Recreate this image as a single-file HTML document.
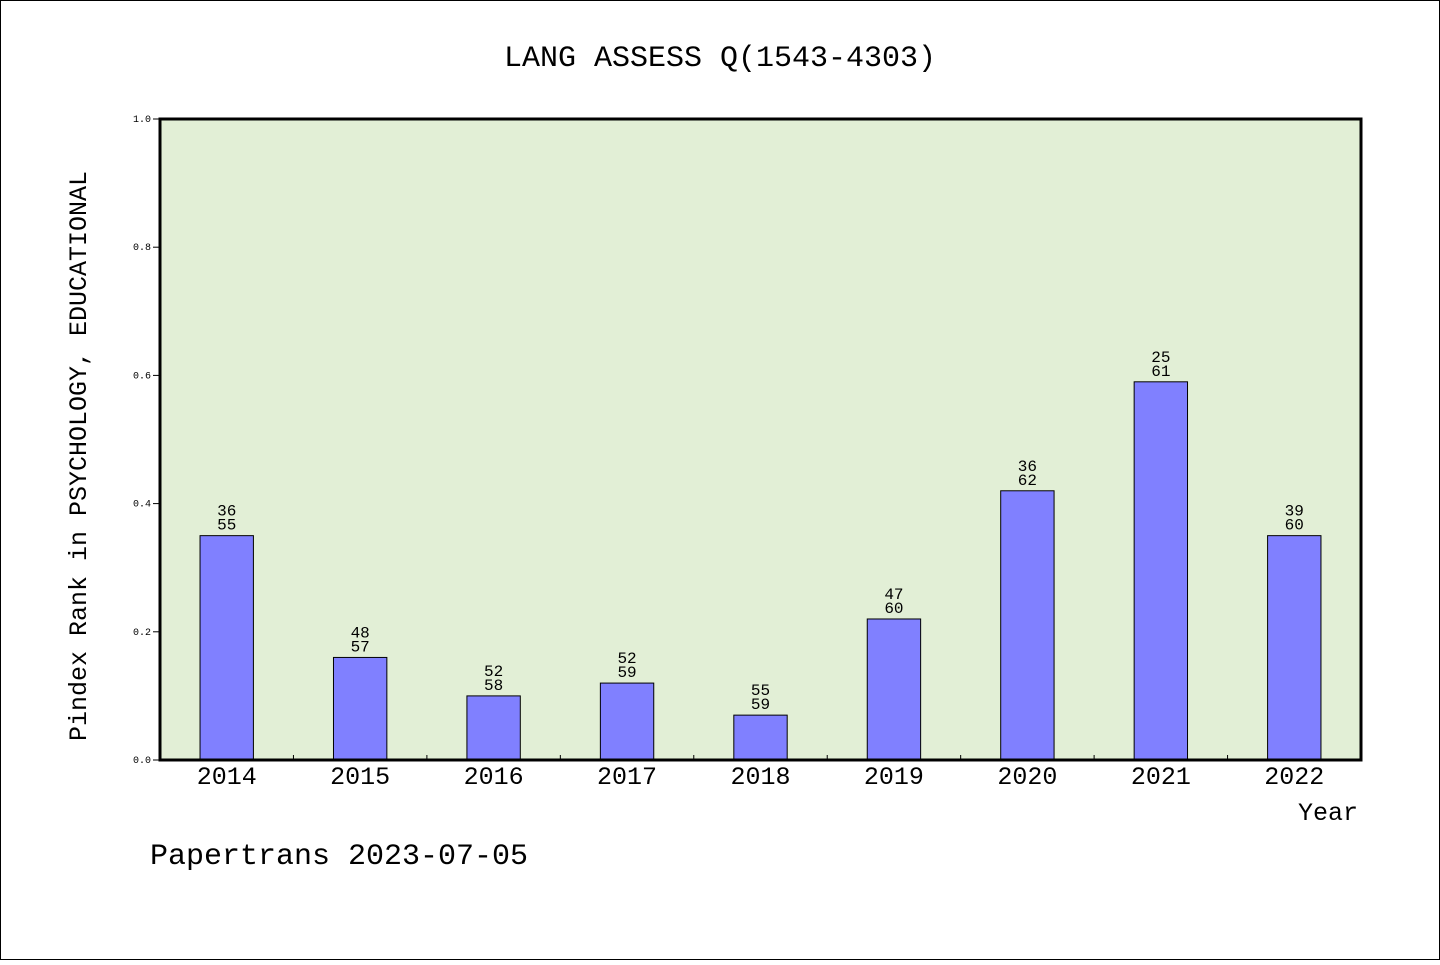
<!DOCTYPE html>
<html><head><meta charset="utf-8"><style>
body{margin:0;background:#fff}
svg text{font-family:"Liberation Mono","WenQuanYi Zen Hei",monospace}
</style></head><body>
<svg width="1440" height="960">
<rect x="0.5" y="0.5" width="1439" height="959" fill="#fff" stroke="#000"/>
<text x="720" y="66" text-anchor="middle" font-size="30">LANG ASSESS Q(1543-4303)</text>
<rect x="160" y="119" width="1201" height="641" fill="#e2efd6"/>
<g id="bars"></g>
<g id="axes"></g>
<rect x="160" y="119" width="1201" height="641" fill="none" stroke="#000" stroke-width="3"/>
<text x="86" y="456" text-anchor="middle" font-size="25" transform="rotate(-90 86 456)">Pindex Rank in PSYCHOLOGY, EDUCATIONAL</text>
<text x="1358" y="820" text-anchor="end" font-size="25">Year</text>
<text x="150" y="864" font-size="30">Papertrans 2023-07-05</text>
</svg>
<script>
const categories=["2014","2015","2016","2017","2018","2019","2020","2021","2022"];
const values=[0.35,0.16,0.10,0.12,0.07,0.22,0.42,0.59,0.35];
const topLabels=["36","48","52","52","55","47","36","25","39"];
const bottomLabels=["55","57","58","59","59","60","62","61","60"];
const yTicks=[0,0.2,0.4,0.6,0.8,1.0];
const NS="http://www.w3.org/2000/svg";
const X0=160,X1=1361,Y0=760,Y1=119;
const step=(X1-X0)/categories.length;
const xc=i=>X0+step*(i+0.5);
const y=v=>Y0-(Y0-Y1)*v;
function mk(tag,attrs,parent){const e=document.createElementNS(NS,tag);for(const k in attrs)e.setAttribute(k,attrs[k]);parent.appendChild(e);return e;}
const bars=document.getElementById('bars'),axes=document.getElementById('axes');
const bw=step*0.4;
categories.forEach((c,i)=>{
 const r=mk('rect',{x:xc(i)-bw/2,y:y(values[i]),width:bw,height:Y0-y(values[i]),fill:'#8080ff',stroke:'#000','stroke-width':1},bars);
 
 
 const t1=mk('text',{x:xc(i),y:y(values[i])-20,'text-anchor':'middle','font-size':16},bars);t1.textContent=topLabels[i];
 
 
 const t2=mk('text',{x:xc(i),y:y(values[i])-6,'text-anchor':'middle','font-size':16},bars);t2.textContent=bottomLabels[i];
 
 
 const xl=mk('text',{x:xc(i),y:784,'text-anchor':'middle','font-size':25},axes);xl.textContent=c;
 
 
 if(i>0){const tk=mk('line',{x1:X0+step*i,x2:X0+step*i,y1:Y0,y2:Y0-5,stroke:'#000'},axes);
 
 }
});
yTicks.forEach(v=>{
 const l=mk('line',{x1:X0-7,x2:X0,y1:y(v),y2:y(v),stroke:'#000'},axes);
 
 
 const t=mk('text',{x:X0-9,y:y(v)+3,'text-anchor':'end','font-size':10},axes);t.textContent=v.toFixed(1);
 
 
});
</script>
</body></html>
